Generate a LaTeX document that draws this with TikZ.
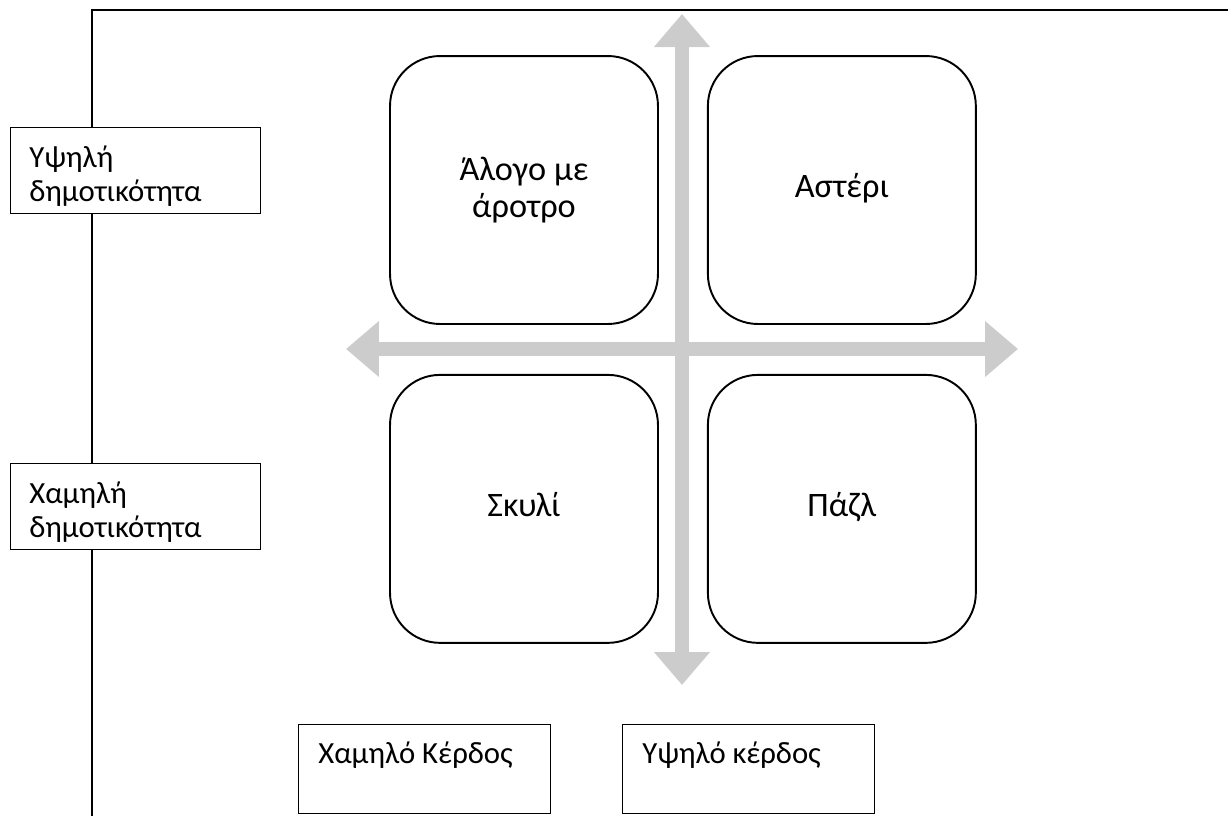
\documentclass[tikz,border=0pt]{standalone}
\usepackage{fontspec}
\setmainfont{Carlito}
\usetikzlibrary{arrows.meta,positioning}

\tikzset{
	quad/.style={draw=black, line width=1.1pt, rounded corners=1cm, minimum width=5.36cm, minimum height=5.36cm, align=center, font=\fontsize{19.5}{21}\selectfont},
	tag/.style={draw=black, line width=0.6pt, fill=white, anchor=north west},
	tagtext/.style={anchor=north west, align=left, inner sep=0pt, font=\fontsize{17.5}{19.5}\selectfont},
	axis/.style={draw=gray!40, line width=0.28cm, {Triangle[width=1.08cm,length=0.66cm]}-{Triangle[width=1.08cm,length=0.66cm]}}
}

\begin{document}
\begin{tikzpicture}[x=0.02cm, y=-0.02cm]

\useasboundingbox (0,0) rectangle (1228,816);

% frame
\coordinate (fbot) at (92,816);
\coordinate (fright) at (1228,10);
\draw[line width=1.1pt] (fbot) |- (fright);

% cross
\coordinate (vtop) at (682,14);
\coordinate (vbot) at (682,685);
\coordinate (hleft) at (346,349);
\coordinate (hright) at (1018,349);
\draw[axis] (vbot) -- (vtop);
\draw[axis] (hleft) -- (hright);

% quadrants
\node[quad] (horse) at (524,190) {Άλογο με\\άροτρο};
\node[quad, right=0.96cm of horse] (star) {\strut Αστέρι};
\node[quad, below=0.98cm of horse] (dog) {\strut Σκυλί};
\node[quad, below=0.98cm of star] (puzzle) {\strut Πάζλ};

% popularity labels
\node[tag, minimum width=5cm, minimum height=1.72cm] (hipop) at (10,127) {};
\node[tagtext] (hipoptext) at ([shift={(0.38cm,-0.36cm)}]hipop.north west) {Υψηλή\\δημοτικότητα};

\node[tag, minimum width=5cm, minimum height=1.72cm] (lopop) at (10,463) {};
\node[tagtext] (lopoptext) at ([shift={(0.38cm,-0.36cm)}]lopop.north west) {Χαμηλή\\δημοτικότητα};

% profit labels
\node[tag, minimum width=5.04cm, minimum height=1.78cm] (lowgain) at (298,724) {};
\node[tagtext] (lowgaintext) at ([shift={(0.4cm,-0.34cm)}]lowgain.north west) {Χαμηλό Κέρδος};

\node[tag, minimum width=5.04cm, minimum height=1.78cm] (highgain) at (622,724) {};
\node[tagtext] (highgaintext) at ([shift={(0.4cm,-0.34cm)}]highgain.north west) {Υψηλό κέρδος};

\end{tikzpicture}
\end{document}
